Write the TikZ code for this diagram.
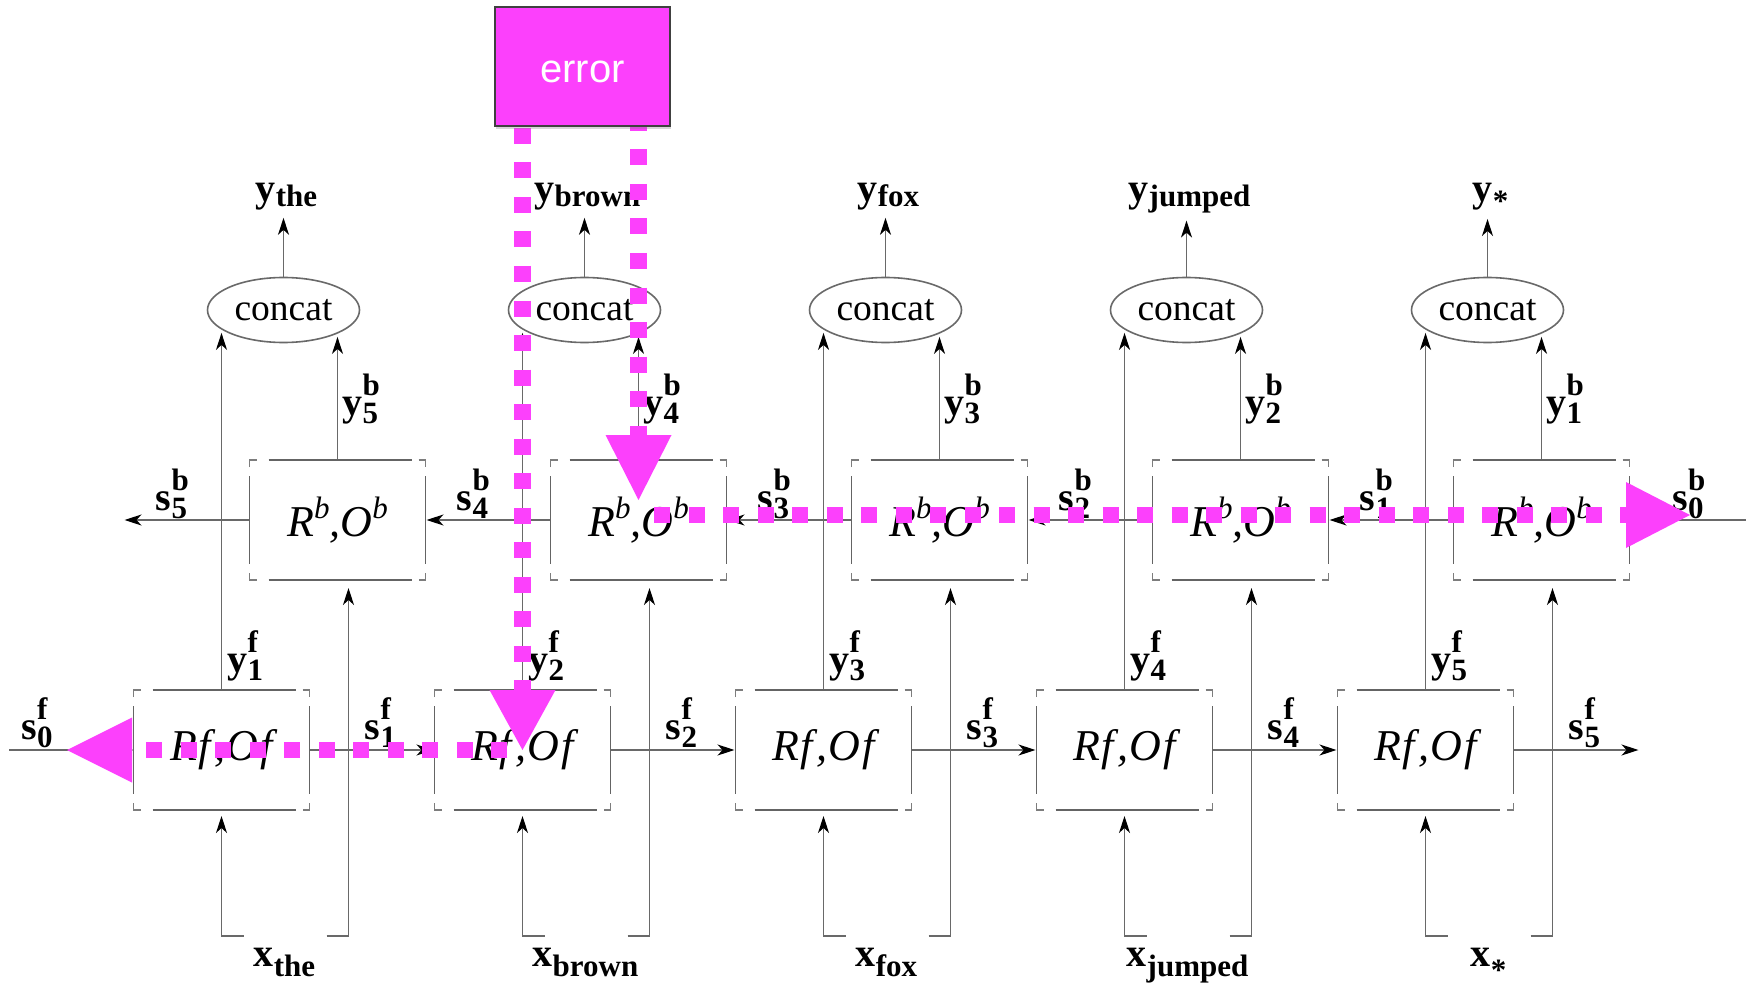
\documentclass[tikz,border=0pt]{standalone}
\usepackage{fontspec}
\setmainfont{Liberation Serif}
\newfontfamily\errfont{Liberation Sans}
\usetikzlibrary{arrows.meta,shapes.geometric,shadows}
\definecolor{lngray}{RGB}{105,105,105}
\definecolor{frgray}{RGB}{125,125,125}
\definecolor{mag}{RGB}{252,64,252}
% script-size text
\newcommand\scr{\fontsize{31}{31}\selectfont}
% base letter with stacked superscript and subscript
\newcommand\supsub[3]{#1\rlap{\raisebox{0.5em}{\scr #2}}\raisebox{-0.2em}{\scr #3}}
% base letter with a lowered subscript
\newcommand\subonly[3]{#1\raisebox{#3}{\scr #2}}
\newcommand\rbob{R\raisebox{0.42em}{\scr b},O\raisebox{0.42em}{\scr b}}
\newcommand\rfof{R\kern1pt f\kern4pt,\kern1pt O\kern2pt f}
% corner-bracket frame around an RNN cell
\newcommand\cellframe[1]{%
  \draw[frm] ([yshift=-7pt]#1.north west) -- (#1.north west) -- ([xshift=7pt]#1.north west)
    ([xshift=-7pt]#1.north east) -- (#1.north east) -- ([yshift=-7pt]#1.north east)
    ([yshift=7pt]#1.south east) -- (#1.south east) -- ([xshift=-7pt]#1.south east)
    ([xshift=7pt]#1.south west) -- (#1.south west) -- ([yshift=7pt]#1.south west);
  \draw[frl] ([xshift=19pt]#1.north west) -- ([xshift=-14pt]#1.north east)
    ([xshift=19pt]#1.south west) -- ([xshift=-14pt]#1.south east)
    ([yshift=-16pt]#1.north west) -- ([yshift=16pt]#1.south west)
    ([yshift=-16pt]#1.north east) -- ([yshift=16pt]#1.south east);}
\begin{document}
\begin{tikzpicture}[x=1pt,y=-1pt,
  ln/.style={draw=lngray, line width=1.6pt},
  arr/.style={ln, -{Stealth[length=17pt,width=11pt,inset=5pt,color=black]}},
  cell/.style={inner sep=0pt, outer sep=0pt, minimum width=176pt, minimum height=120pt,
    font=\fontsize{44}{44}\selectfont\itshape},
  frm/.style={draw=frgray, line width=1.6pt},
  frl/.style={draw=frgray!80!black, line width=1.8pt},
  cc/.style={ellipse, draw=lngray, line width=1.6pt, inner sep=0pt, outer sep=0pt,
    minimum width=152pt, minimum height=65pt, font=\fontsize{37.5}{40}\selectfont},
  lab/.style={inner sep=0pt, font=\fontsize{40}{40}\selectfont\bfseries},
  magdot/.style={draw=mag, line width=16.5pt, dash pattern=on 16pt off 18.5pt},
  errbox/.style={fill=mag, draw=black!75, line width=1.3pt, minimum width=175pt,
    minimum height=119pt, inner sep=0pt, text=white, text height=32pt, text depth=0pt,
    font=\errfont\fontsize{40}{40}\selectfont,
    drop shadow={opacity=0.3, shadow xshift=1pt, shadow yshift=-3pt}}]
\useasboundingbox[fill=white] (0,0) rectangle (1746,987);

% cells, concat nodes and labels of each time step
\foreach \i/\w in {1/the,2/brown,3/fox,4/jumped,5/{\raisebox{-0.16em}{*}}}{
  \pgfmathsetmacro\xf{221.5+301*(\i-1)}
  \pgfmathsetmacro\xb{\xf+116}
  \pgfmathsetmacro\xc{\xf+62}
  \pgfmathtruncatemacro\bi{6-\i}
  \node[cell] (f\i) at (\xf,750) {\rfof};
  \node[cell] (b\i) at (\xb,520) {\rbob};
  \node[cc] (c\i) at (\xc,310) {concat};
  \node[lab, anchor=base] (yo\i) at (\xc+3,202) {\subonly{y}{\w}{-0.12em}};
  \node[lab, anchor=base] (xi\i) at (\xf+63,966) {\subonly{x}{\w}{-0.25em}};
  \node[lab, anchor=base west] (yf\i) at (\xf+6,672) {\supsub{y}{f}{\i}};
  \node[lab, anchor=base west] (yb\i) at (\xb+5,415) {\supsub{y}{b}{\bi}};
  \node[lab, anchor=base] (sf\i) at (\xf+159,739) {\supsub{s}{f}{\i}};
  \node[lab, anchor=base] (sb\i) at (\xb-166,510) {\supsub{s}{b}{\bi}};
  \coordinate (xl\i) at (\xf,936);
  \coordinate (xr\i) at (\xb+11,936);
  % outputs into concat, concat to output word
  \draw[arr, shorten >=4pt] (f\i.north) -- (f\i.north |- c\i.197);
  \draw[arr, shorten >=4pt] (b\i.north) -- (b\i.north |- c\i.337);
  \draw[arr, shorten >=7pt] (c\i.north) -- (c\i.north |- yo\i.south);
  % inputs
  \draw[arr, shorten >=6pt] ([xshift=22pt]xl\i) -- (xl\i) -- (f\i.south);
  \draw[arr, shorten >=8pt] ([xshift=-22pt]xr\i) -- (xr\i) -- (xr\i |- b\i.south);
}
\node[lab, anchor=base] (sf0) at (37,739) {\supsub{s}{f}{0}};
\node[lab, anchor=base] (sb0) at (1688,510) {\supsub{s}{b}{0}};

% forward recurrence
\coordinate (fin) at (9,750);
\coordinate (fout) at (1638.5,750);
\draw[arr] (fin) -- (f1.west);
\foreach \i/\j in {1/2,2/3,3/4,4/5}
  \draw[arr, shorten >=1pt] (f\i.east) -- (f\j.west);
\draw[arr] (f5.east) -- (fout);

% backward recurrence
\coordinate (bin) at (1746,520);
\coordinate (bout) at (124.5,520);
\draw[arr] (bin) -- (b5.east);
\foreach \i/\j in {5/4,4/3,3/2,2/1}
  \draw[arr, shorten >=1pt] (b\i.west) -- (b\j.east);
\draw[arr] (b1.west) -- (bout);

\foreach \n in {f1,f2,f3,f4,f5,b1,b2,b3,b4,b5}{\cellframe{\n}}

% error signal flowing back through the network
\coordinate (mlt) at (f2.north |- 0,128);
\draw[magdot] (mlt) -- (f2.north);
\fill[mag] (f2.center) -- ([xshift=-33pt]f2.north) -- ([xshift=33pt]f2.north) -- cycle;

\coordinate (mrt) at (b2.north |- 0,115);
\coordinate (mrb) at (b2.north |- 0,435);
\coordinate (mrtip) at (b2.north |- 0,500);
\draw[magdot] (mrt) -- (mrb);
\fill[mag] (mrtip) -- ([xshift=-33pt]mrb) -- ([xshift=33pt]mrb) -- cycle;

\coordinate (mfs) at (507,750);
\coordinate (mfb) at (132,750);
\coordinate (mftip) at (67,750);
\draw[magdot] (mfs) -- (mfb);
\fill[mag] (mftip) -- ([yshift=32.5pt]mfb) -- ([yshift=-32.5pt]mfb) -- cycle;

\coordinate (mbs) at (654,515);
\coordinate (mbb) at (1626,515);
\coordinate (mbtip) at (1690,515);
\draw[magdot] (mbs) -- (mbb);
\fill[mag] (mbtip) -- ([yshift=33pt]mbb) -- ([yshift=-33pt]mbb) -- cycle;

\node[errbox] (err) at (582.5,66.5) {error};
\end{tikzpicture}
\end{document}
